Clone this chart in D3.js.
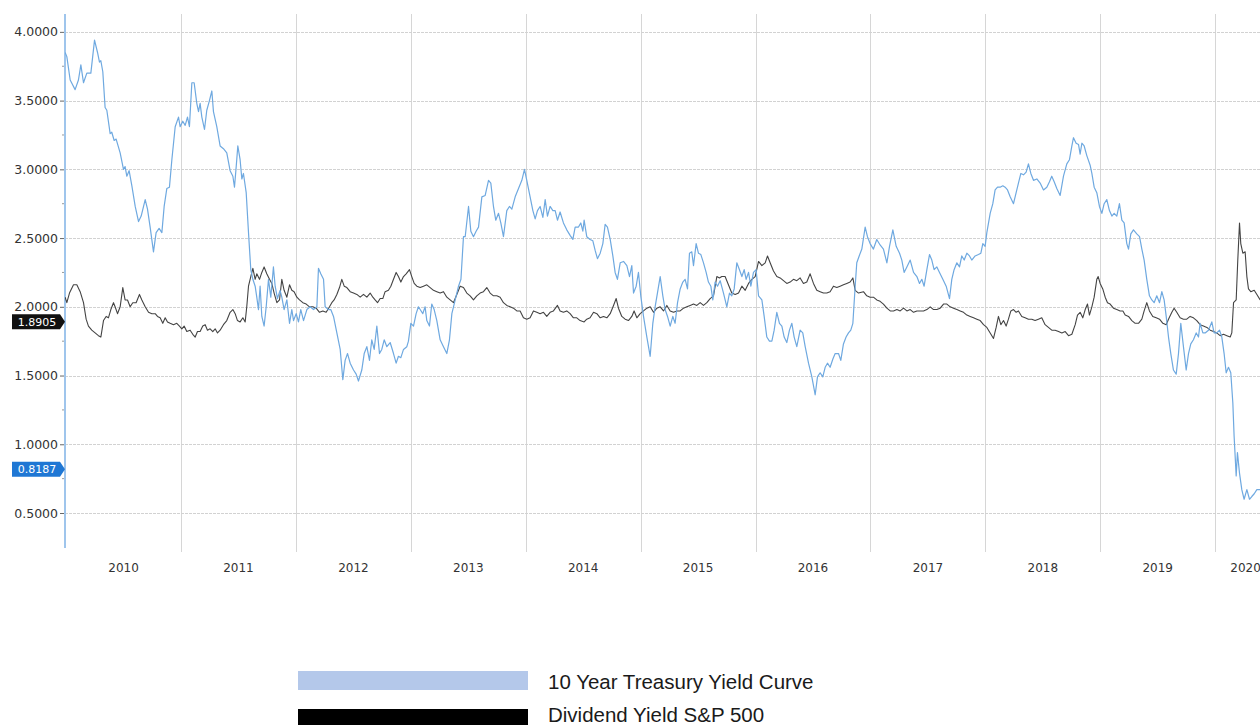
<!DOCTYPE html>
<html>
<head>
<meta charset="utf-8">
<script src="https://cdn.jsdelivr.net/npm/d3@7/dist/d3.min.js"></script>
<style>
  html, body { margin: 0; padding: 0; background: #ffffff; }
  svg { display: block; }
</style>
</head>
<body>
<script>
// ---- Data (decimal year, value) ----
const treasuryYield = [[2009.991,3.85],[2010.006,3.82],[2010.035,3.65],[2010.078,3.58],[2010.107,3.65],[2010.128,3.76],[2010.151,3.63],[2010.180,3.70],[2010.215,3.70],[2010.247,3.94],[2010.273,3.85],[2010.290,3.78],[2010.302,3.79],[2010.319,3.71],[2010.339,3.45],[2010.354,3.43],[2010.383,3.26],[2010.397,3.27],[2010.418,3.21],[2010.435,3.22],[2010.470,3.12],[2010.499,3.00],[2010.513,3.02],[2010.528,2.95],[2010.548,2.99],[2010.572,2.88],[2010.601,2.73],[2010.630,2.62],[2010.653,2.66],[2010.688,2.78],[2010.708,2.71],[2010.731,2.58],[2010.760,2.40],[2010.783,2.54],[2010.809,2.57],[2010.833,2.54],[2010.853,2.73],[2010.876,2.86],[2010.899,2.87],[2010.920,3.07],[2010.949,3.31],[2010.978,3.38],[2010.992,3.31],[2011.015,3.35],[2011.036,3.32],[2011.056,3.38],[2011.073,3.31],[2011.094,3.63],[2011.114,3.63],[2011.137,3.48],[2011.152,3.42],[2011.166,3.48],[2011.181,3.38],[2011.204,3.29],[2011.224,3.43],[2011.247,3.50],[2011.268,3.57],[2011.282,3.42],[2011.311,3.31],[2011.340,3.17],[2011.369,3.15],[2011.398,3.12],[2011.427,2.99],[2011.451,2.95],[2011.465,2.87],[2011.480,3.02],[2011.494,3.17],[2011.514,3.07],[2011.529,2.93],[2011.543,2.97],[2011.567,2.83],[2011.587,2.54],[2011.607,2.27],[2011.625,2.20],[2011.645,2.15],[2011.659,2.07],[2011.674,1.98],[2011.688,2.15],[2011.703,1.93],[2011.723,1.86],[2011.741,2.00],[2011.761,2.20],[2011.781,2.07],[2011.804,2.29],[2011.819,2.15],[2011.839,2.06],[2011.862,2.12],[2011.877,2.07],[2011.897,1.98],[2011.921,2.05],[2011.944,1.88],[2011.964,1.98],[2011.979,1.90],[2012.002,1.95],[2012.022,1.89],[2012.042,1.98],[2012.066,1.90],[2012.095,1.98],[2012.124,2.00],[2012.153,1.98],[2012.182,2.00],[2012.196,2.28],[2012.216,2.24],[2012.240,2.20],[2012.254,2.00],[2012.283,1.98],[2012.303,1.98],[2012.327,1.93],[2012.356,1.81],[2012.385,1.69],[2012.408,1.47],[2012.428,1.61],[2012.449,1.66],[2012.472,1.59],[2012.501,1.54],[2012.524,1.51],[2012.544,1.46],[2012.573,1.54],[2012.594,1.66],[2012.617,1.71],[2012.640,1.61],[2012.660,1.76],[2012.681,1.69],[2012.704,1.86],[2012.727,1.66],[2012.747,1.69],[2012.768,1.76],[2012.791,1.71],[2012.820,1.74],[2012.849,1.66],[2012.872,1.59],[2012.892,1.64],[2012.913,1.63],[2012.936,1.69],[2012.965,1.71],[2012.979,1.75],[2013.000,1.88],[2013.023,1.86],[2013.046,1.95],[2013.066,2.00],[2013.081,1.98],[2013.104,1.95],[2013.124,2.00],[2013.139,1.90],[2013.162,1.86],[2013.182,2.02],[2013.203,1.98],[2013.226,1.90],[2013.255,1.76],[2013.284,1.71],[2013.313,1.66],[2013.336,1.76],[2013.357,1.95],[2013.386,2.05],[2013.415,2.15],[2013.436,2.20],[2013.458,2.51],[2013.473,2.51],[2013.502,2.73],[2013.522,2.55],[2013.545,2.51],[2013.568,2.55],[2013.589,2.58],[2013.618,2.80],[2013.647,2.81],[2013.676,2.92],[2013.696,2.90],[2013.719,2.73],[2013.739,2.63],[2013.763,2.68],[2013.783,2.61],[2013.806,2.51],[2013.835,2.70],[2013.858,2.73],[2013.879,2.71],[2013.908,2.80],[2013.937,2.86],[2013.966,2.92],[2013.989,3.00],[2014.009,2.92],[2014.038,2.80],[2014.062,2.70],[2014.082,2.64],[2014.102,2.70],[2014.125,2.73],[2014.149,2.65],[2014.169,2.78],[2014.189,2.66],[2014.212,2.73],[2014.236,2.70],[2014.256,2.70],[2014.276,2.63],[2014.299,2.69],[2014.328,2.61],[2014.357,2.56],[2014.386,2.52],[2014.410,2.49],[2014.430,2.58],[2014.459,2.58],[2014.479,2.61],[2014.497,2.55],[2014.508,2.63],[2014.531,2.51],[2014.560,2.49],[2014.584,2.48],[2014.604,2.41],[2014.624,2.35],[2014.648,2.39],[2014.671,2.46],[2014.691,2.60],[2014.711,2.58],[2014.735,2.49],[2014.758,2.37],[2014.778,2.25],[2014.798,2.20],[2014.822,2.32],[2014.851,2.33],[2014.880,2.30],[2014.903,2.22],[2014.923,2.30],[2014.938,2.10],[2014.961,2.15],[2014.981,2.25],[2015.001,2.08],[2015.025,1.93],[2015.054,1.78],[2015.083,1.64],[2015.106,1.88],[2015.126,2.00],[2015.146,2.10],[2015.170,2.22],[2015.193,2.08],[2015.213,1.98],[2015.234,1.93],[2015.257,1.86],[2015.280,1.93],[2015.300,1.88],[2015.321,2.03],[2015.344,2.13],[2015.367,2.18],[2015.387,2.20],[2015.408,2.13],[2015.425,2.39],[2015.445,2.40],[2015.460,2.30],[2015.483,2.46],[2015.503,2.39],[2015.524,2.38],[2015.547,2.32],[2015.570,2.25],[2015.590,2.18],[2015.611,2.15],[2015.628,2.05],[2015.648,2.18],[2015.669,2.15],[2015.692,2.19],[2015.721,2.10],[2015.750,2.00],[2015.773,2.10],[2015.793,2.08],[2015.814,2.13],[2015.837,2.32],[2015.860,2.27],[2015.881,2.22],[2015.901,2.27],[2015.918,2.20],[2015.939,2.25],[2015.959,2.15],[2015.982,2.25],[2016.005,2.27],[2016.026,2.08],[2016.055,2.05],[2016.075,1.93],[2016.098,1.78],[2016.121,1.75],[2016.142,1.75],[2016.162,1.83],[2016.185,1.96],[2016.208,1.88],[2016.229,1.86],[2016.249,1.78],[2016.272,1.74],[2016.295,1.83],[2016.316,1.88],[2016.336,1.78],[2016.359,1.71],[2016.388,1.83],[2016.411,1.81],[2016.432,1.71],[2016.461,1.59],[2016.490,1.49],[2016.519,1.36],[2016.539,1.49],[2016.562,1.52],[2016.585,1.49],[2016.606,1.56],[2016.626,1.59],[2016.649,1.56],[2016.673,1.62],[2016.693,1.66],[2016.722,1.66],[2016.742,1.61],[2016.765,1.73],[2016.788,1.78],[2016.809,1.81],[2016.829,1.83],[2016.847,1.88],[2016.867,2.15],[2016.881,2.32],[2016.902,2.37],[2016.925,2.42],[2016.954,2.58],[2016.974,2.51],[2016.997,2.46],[2017.026,2.42],[2017.055,2.49],[2017.084,2.45],[2017.113,2.42],[2017.143,2.32],[2017.166,2.44],[2017.195,2.56],[2017.224,2.44],[2017.253,2.39],[2017.273,2.34],[2017.293,2.25],[2017.317,2.29],[2017.346,2.34],[2017.375,2.25],[2017.404,2.22],[2017.427,2.17],[2017.447,2.20],[2017.467,2.15],[2017.491,2.27],[2017.514,2.38],[2017.534,2.34],[2017.554,2.27],[2017.578,2.29],[2017.601,2.25],[2017.630,2.20],[2017.659,2.15],[2017.688,2.06],[2017.708,2.20],[2017.728,2.27],[2017.752,2.32],[2017.775,2.29],[2017.795,2.37],[2017.816,2.34],[2017.839,2.39],[2017.862,2.37],[2017.882,2.34],[2017.911,2.37],[2017.940,2.38],[2017.961,2.39],[2017.978,2.46],[2017.998,2.44],[2018.013,2.54],[2018.042,2.68],[2018.065,2.75],[2018.085,2.85],[2018.106,2.87],[2018.129,2.87],[2018.152,2.88],[2018.172,2.87],[2018.193,2.85],[2018.216,2.80],[2018.245,2.75],[2018.268,2.83],[2018.288,2.90],[2018.309,2.97],[2018.332,2.96],[2018.355,2.98],[2018.375,3.04],[2018.396,2.97],[2018.419,2.92],[2018.448,2.93],[2018.477,2.90],[2018.506,2.85],[2018.535,2.87],[2018.558,2.91],[2018.578,2.95],[2018.599,2.91],[2018.622,2.86],[2018.651,2.81],[2018.680,2.95],[2018.709,3.04],[2018.732,3.07],[2018.753,3.17],[2018.767,3.23],[2018.790,3.19],[2018.811,3.18],[2018.825,3.11],[2018.840,3.19],[2018.860,3.17],[2018.883,3.10],[2018.912,3.03],[2018.927,2.97],[2018.947,2.87],[2018.970,2.83],[2018.993,2.73],[2019.014,2.68],[2019.034,2.75],[2019.057,2.78],[2019.080,2.70],[2019.101,2.66],[2019.121,2.68],[2019.144,2.66],[2019.167,2.75],[2019.188,2.63],[2019.208,2.61],[2019.231,2.46],[2019.246,2.42],[2019.266,2.53],[2019.289,2.56],[2019.318,2.53],[2019.342,2.51],[2019.362,2.42],[2019.382,2.34],[2019.405,2.20],[2019.428,2.08],[2019.449,2.05],[2019.469,2.03],[2019.492,2.08],[2019.516,2.03],[2019.536,2.11],[2019.556,2.05],[2019.574,1.93],[2019.594,1.78],[2019.614,1.66],[2019.637,1.54],[2019.661,1.51],[2019.681,1.66],[2019.701,1.88],[2019.724,1.71],[2019.748,1.54],[2019.768,1.66],[2019.788,1.73],[2019.811,1.76],[2019.835,1.81],[2019.855,1.78],[2019.869,1.88],[2019.893,1.81],[2019.913,1.81],[2019.942,1.83],[2019.971,1.89],[2019.991,1.81],[2020.014,1.81],[2020.038,1.83],[2020.058,1.78],[2020.078,1.66],[2020.096,1.52],[2020.116,1.56],[2020.136,1.52],[2020.154,1.30],[2020.165,1.06],[2020.183,0.77],[2020.194,0.94],[2020.212,0.79],[2020.232,0.67],[2020.252,0.60],[2020.276,0.67],[2020.299,0.60],[2020.319,0.62],[2020.340,0.64],[2020.363,0.67],[2020.392,0.67]];

const dividendYield = [[2009.991,2.07],[2010.006,2.03],[2010.029,2.10],[2010.064,2.16],[2010.093,2.16],[2010.122,2.11],[2010.151,2.03],[2010.174,1.91],[2010.194,1.86],[2010.223,1.83],[2010.252,1.81],[2010.281,1.79],[2010.302,1.78],[2010.325,1.90],[2010.348,1.93],[2010.368,1.92],[2010.389,1.98],[2010.412,2.03],[2010.426,2.00],[2010.447,1.95],[2010.470,2.00],[2010.493,2.14],[2010.513,2.05],[2010.534,2.05],[2010.557,2.00],[2010.580,2.03],[2010.609,2.03],[2010.638,2.09],[2010.659,2.05],[2010.688,2.00],[2010.717,1.96],[2010.746,1.95],[2010.775,1.95],[2010.795,1.93],[2010.818,1.92],[2010.841,1.88],[2010.862,1.92],[2010.882,1.89],[2010.905,1.88],[2010.934,1.87],[2010.963,1.88],[2010.986,1.86],[2011.007,1.84],[2011.027,1.86],[2011.050,1.82],[2011.079,1.83],[2011.102,1.80],[2011.123,1.78],[2011.143,1.82],[2011.166,1.82],[2011.189,1.86],[2011.210,1.87],[2011.230,1.83],[2011.253,1.84],[2011.276,1.82],[2011.297,1.84],[2011.317,1.81],[2011.340,1.83],[2011.369,1.87],[2011.398,1.90],[2011.427,1.96],[2011.451,1.98],[2011.471,1.95],[2011.491,1.90],[2011.514,1.89],[2011.538,1.92],[2011.558,1.89],[2011.572,2.00],[2011.587,2.15],[2011.607,2.22],[2011.625,2.28],[2011.645,2.20],[2011.659,2.24],[2011.683,2.20],[2011.703,2.25],[2011.723,2.29],[2011.746,2.24],[2011.770,2.20],[2011.790,2.17],[2011.810,2.10],[2011.834,2.03],[2011.857,2.05],[2011.877,2.20],[2011.897,2.12],[2011.921,2.07],[2011.944,2.16],[2011.964,2.12],[2011.984,2.11],[2012.008,2.07],[2012.031,2.05],[2012.060,2.03],[2012.089,2.02],[2012.118,2.00],[2012.147,2.00],[2012.176,1.99],[2012.205,1.96],[2012.234,1.97],[2012.263,1.96],[2012.292,2.00],[2012.312,2.03],[2012.332,2.05],[2012.356,2.09],[2012.379,2.14],[2012.399,2.20],[2012.420,2.15],[2012.443,2.14],[2012.472,2.11],[2012.501,2.10],[2012.530,2.09],[2012.559,2.07],[2012.588,2.09],[2012.617,2.07],[2012.646,2.10],[2012.669,2.07],[2012.689,2.05],[2012.710,2.03],[2012.733,2.06],[2012.756,2.06],[2012.776,2.11],[2012.805,2.12],[2012.826,2.15],[2012.849,2.20],[2012.872,2.25],[2012.892,2.22],[2012.913,2.18],[2012.936,2.22],[2012.959,2.24],[2012.988,2.27],[2013.008,2.22],[2013.029,2.17],[2013.052,2.15],[2013.081,2.14],[2013.110,2.15],[2013.139,2.16],[2013.168,2.14],[2013.197,2.12],[2013.226,2.11],[2013.255,2.10],[2013.284,2.11],[2013.313,2.07],[2013.342,2.05],[2013.371,2.03],[2013.400,2.09],[2013.429,2.15],[2013.458,2.14],[2013.487,2.10],[2013.516,2.08],[2013.545,2.05],[2013.574,2.08],[2013.603,2.10],[2013.632,2.11],[2013.661,2.14],[2013.690,2.10],[2013.719,2.08],[2013.748,2.08],[2013.777,2.07],[2013.806,2.03],[2013.835,2.01],[2013.864,2.00],[2013.893,1.99],[2013.922,1.97],[2013.951,1.97],[2013.980,1.92],[2014.009,1.91],[2014.038,1.92],[2014.067,1.97],[2014.096,1.96],[2014.125,1.95],[2014.154,1.96],[2014.183,1.93],[2014.212,1.96],[2014.241,1.97],[2014.276,2.01],[2014.299,1.97],[2014.328,1.96],[2014.357,1.97],[2014.386,1.95],[2014.415,1.92],[2014.444,1.92],[2014.473,1.90],[2014.508,1.89],[2014.531,1.91],[2014.560,1.92],[2014.590,1.96],[2014.619,1.95],[2014.648,1.92],[2014.677,1.93],[2014.706,1.92],[2014.735,1.95],[2014.764,2.01],[2014.787,2.06],[2014.807,1.99],[2014.836,1.93],[2014.865,1.91],[2014.894,1.90],[2014.923,1.93],[2014.943,1.97],[2014.967,1.92],[2014.996,1.95],[2015.025,1.97],[2015.054,1.99],[2015.083,2.00],[2015.112,1.96],[2015.141,1.99],[2015.170,2.00],[2015.199,1.97],[2015.228,2.01],[2015.257,1.97],[2015.286,1.96],[2015.315,1.97],[2015.344,1.97],[2015.373,1.99],[2015.402,2.00],[2015.431,2.01],[2015.460,2.02],[2015.489,2.01],[2015.518,2.03],[2015.547,2.01],[2015.576,2.03],[2015.605,2.06],[2015.634,2.08],[2015.663,2.22],[2015.686,2.21],[2015.706,2.22],[2015.735,2.22],[2015.764,2.16],[2015.793,2.10],[2015.823,2.09],[2015.852,2.10],[2015.881,2.15],[2015.910,2.12],[2015.939,2.17],[2015.968,2.20],[2015.997,2.22],[2016.026,2.33],[2016.055,2.30],[2016.084,2.32],[2016.104,2.37],[2016.127,2.32],[2016.156,2.26],[2016.185,2.22],[2016.214,2.21],[2016.243,2.19],[2016.272,2.17],[2016.301,2.18],[2016.330,2.20],[2016.359,2.19],[2016.388,2.21],[2016.417,2.17],[2016.446,2.18],[2016.475,2.24],[2016.504,2.17],[2016.533,2.12],[2016.562,2.11],[2016.591,2.10],[2016.620,2.10],[2016.649,2.11],[2016.678,2.15],[2016.707,2.14],[2016.736,2.15],[2016.765,2.16],[2016.794,2.17],[2016.823,2.18],[2016.847,2.21],[2016.867,2.12],[2016.896,2.10],[2016.939,2.11],[2016.968,2.08],[2016.997,2.07],[2017.026,2.07],[2017.055,2.05],[2017.084,2.04],[2017.113,2.02],[2017.143,1.99],[2017.172,1.97],[2017.201,1.97],[2017.230,1.98],[2017.259,1.97],[2017.288,1.99],[2017.317,1.97],[2017.346,1.98],[2017.375,1.96],[2017.404,1.97],[2017.433,1.97],[2017.462,1.97],[2017.491,1.98],[2017.520,2.00],[2017.549,1.98],[2017.578,1.98],[2017.607,1.99],[2017.636,2.02],[2017.665,2.02],[2017.694,2.00],[2017.723,1.99],[2017.752,1.98],[2017.781,1.97],[2017.810,1.96],[2017.839,1.94],[2017.868,1.93],[2017.897,1.92],[2017.926,1.91],[2017.955,1.90],[2017.984,1.87],[2018.013,1.85],[2018.042,1.81],[2018.071,1.77],[2018.094,1.85],[2018.114,1.93],[2018.135,1.87],[2018.158,1.90],[2018.181,1.86],[2018.201,1.91],[2018.222,1.97],[2018.245,1.98],[2018.268,1.96],[2018.288,1.97],[2018.317,1.93],[2018.346,1.92],[2018.375,1.91],[2018.404,1.91],[2018.433,1.90],[2018.462,1.91],[2018.491,1.92],[2018.520,1.87],[2018.549,1.85],[2018.578,1.83],[2018.607,1.83],[2018.637,1.82],[2018.666,1.81],[2018.695,1.82],[2018.724,1.79],[2018.753,1.80],[2018.782,1.87],[2018.802,1.94],[2018.825,1.96],[2018.848,1.92],[2018.869,1.98],[2018.889,2.02],[2018.906,1.94],[2018.927,2.00],[2018.947,2.07],[2018.970,2.20],[2018.982,2.22],[2018.999,2.17],[2019.022,2.13],[2019.043,2.07],[2019.063,2.03],[2019.086,2.02],[2019.115,1.99],[2019.144,1.98],[2019.173,1.97],[2019.197,1.97],[2019.217,1.94],[2019.246,1.93],[2019.275,1.90],[2019.304,1.88],[2019.333,1.88],[2019.362,1.91],[2019.382,1.97],[2019.405,2.03],[2019.428,1.97],[2019.457,1.93],[2019.487,1.92],[2019.516,1.91],[2019.545,1.88],[2019.574,1.87],[2019.594,1.91],[2019.623,1.96],[2019.643,1.99],[2019.666,1.96],[2019.695,1.92],[2019.724,1.91],[2019.753,1.91],[2019.782,1.93],[2019.811,1.92],[2019.840,1.90],[2019.869,1.87],[2019.898,1.86],[2019.928,1.85],[2019.957,1.83],[2019.986,1.82],[2020.014,1.81],[2020.043,1.79],[2020.073,1.80],[2020.102,1.79],[2020.131,1.78],[2020.145,1.81],[2020.160,2.03],[2020.183,2.05],[2020.197,2.34],[2020.212,2.61],[2020.223,2.46],[2020.241,2.39],[2020.261,2.40],[2020.276,2.22],[2020.290,2.13],[2020.310,2.11],[2020.340,2.12],[2020.363,2.09],[2020.392,2.05]];

const yTickValues = [0.5, 1.0, 1.5, 2.0, 2.5, 3.0, 3.5, 4.0];
const yMinorTicks = [0.75, 1.25, 1.75, 2.25, 2.75, 3.25, 3.75];
const yearLabels = [2010, 2011, 2012, 2013, 2014, 2015, 2016, 2017, 2018, 2019, 2020];
const lastValues = [
  { name: "Dividend Yield S&P 500", value: 1.8905 },
  { name: "10 Year Treasury Yield Curve", value: 0.8187 }
];
const legendItems = ["10 Year Treasury Yield Curve", "Dividend Yield S&P 500"];

// ---- Layout ----
const W = 1260, H = 725;
const plotLeft = 65, plotTop = 14, plotBottom = 546;
const xStart = 2009.99;
const pxPerYear = 114.9;
const xRangeEnd = 1276;
const xEnd = xStart + (xRangeEnd - plotLeft) / pxPerYear;

const svg = d3.select("body").append("svg").attr("width", W).attr("height", H);

const x = d3.scaleLinear().domain([xStart, xEnd]).range([plotLeft, xRangeEnd]);
const y = d3.scaleLinear().domain([0.26, 4.13]).range([plotBottom, plotTop]);

svg.append("defs").append("clipPath").attr("id", "plotclip")
  .append("rect").attr("x", plotLeft).attr("y", plotTop - 5)
  .attr("width", W - plotLeft).attr("height", plotBottom - plotTop + 5);

// vertical gridlines at year boundaries
const yearBounds = d3.range(2011, 2021);
svg.append("g").selectAll("line").data(yearBounds).join("line")
  .attr("x1", d => Math.round(x(d)) + 0.5).attr("x2", d => Math.round(x(d)) + 0.5)
  .attr("y1", plotTop).attr("y2", plotBottom + 6)
  .attr("stroke", "#d6d6d6").attr("stroke-width", 1);

// horizontal gridlines
svg.append("g").selectAll("line").data(yTickValues).join("line")
  .attr("x1", plotLeft).attr("x2", W)
  .attr("y1", d => Math.round(y(d)) + 0.5).attr("y2", d => Math.round(y(d)) + 0.5)
  .attr("stroke", "#d2d2d2").attr("stroke-width", 1).attr("stroke-dasharray", "3,1");

// x labels centred within each visible year interval
svg.append("g").selectAll("text").data(yearLabels).join("text")
  .attr("x", d => x((Math.max(d, xStart) + Math.min(d + 1, xEnd)) / 2))
  .attr("y", 572)
  .attr("text-anchor", "middle")
  .attr("font-family", "DejaVu Sans, sans-serif")
  .attr("font-size", 12)
  .attr("fill", "#333")
  .text(d => d);

// y axis
const yAxis = d3.axisLeft(y).tickValues(yTickValues).tickFormat(d3.format(".4f")).tickSize(5).tickSizeOuter(0);
const gy = svg.append("g").attr("transform", `translate(${plotLeft},0)`).call(yAxis);
gy.select(".domain").remove();
gy.selectAll(".tick line").attr("stroke", "#666");
gy.selectAll(".tick text").attr("font-family", "DejaVu Sans, sans-serif")
  .attr("font-size", 12.5).attr("fill", "#333").attr("x", -7);
svg.append("g").selectAll("line").data(yMinorTicks).join("line")
  .attr("x1", plotLeft - 3).attr("x2", plotLeft)
  .attr("y1", d => y(d)).attr("y2", d => y(d))
  .attr("stroke", "#999");
svg.append("line").attr("x1", plotLeft).attr("x2", plotLeft)
  .attr("y1", plotTop).attr("y2", plotBottom + 2)
  .attr("stroke", "#9fc5ec").attr("stroke-width", 2);

// lines
const line = d3.line().x(d => x(d[0])).y(d => y(d[1]));
const lines = svg.append("g").attr("clip-path", "url(#plotclip)");
lines.append("path").datum(dividendYield).attr("d", line)
  .attr("fill", "none").attr("stroke", "#444").attr("stroke-width", 1.1)
  .attr("stroke-linejoin", "round");
lines.append("path").datum(treasuryYield).attr("d", line)
  .attr("fill", "none").attr("stroke", "#6fa9e0").attr("stroke-width", 1.2)
  .attr("stroke-linejoin", "round");

// last value badges
const badgeColors = ["#111111", "#1f77d4"];
lastValues.forEach((b, i) => {
  const cy = y(b.value);
  const g = svg.append("g");
  const left = 12, right = 60, h = 15;
  g.append("path")
    .attr("d", `M${left},${cy - h/2} L${right},${cy - h/2} L${plotLeft},${cy} L${right},${cy + h/2} L${left},${cy + h/2} Z`)
    .attr("fill", badgeColors[i]);
  g.append("text").attr("x", (left + right) / 2 + 1).attr("y", cy + 4)
    .attr("text-anchor", "middle").attr("font-family", "DejaVu Sans, sans-serif")
    .attr("font-size", 11).attr("fill", "#fff").text(d3.format(".4f")(b.value));
});

// legend
const legendColors = ["#b4c8ea", "#000000"];
const lg = svg.append("g");
legendItems.forEach((name, i) => {
  const top = i === 0 ? 671 : 709;
  lg.append("rect").attr("x", 298).attr("y", top).attr("width", 230).attr("height", 19)
    .attr("fill", legendColors[i]);
  lg.append("text").attr("x", 548).attr("y", i === 0 ? 689 : 722)
    .attr("font-family", "Liberation Sans, Arial, sans-serif")
    .attr("font-size", 20.5).attr("fill", "#1a1a1a").text(name);
});
</script>
</body>
</html>
